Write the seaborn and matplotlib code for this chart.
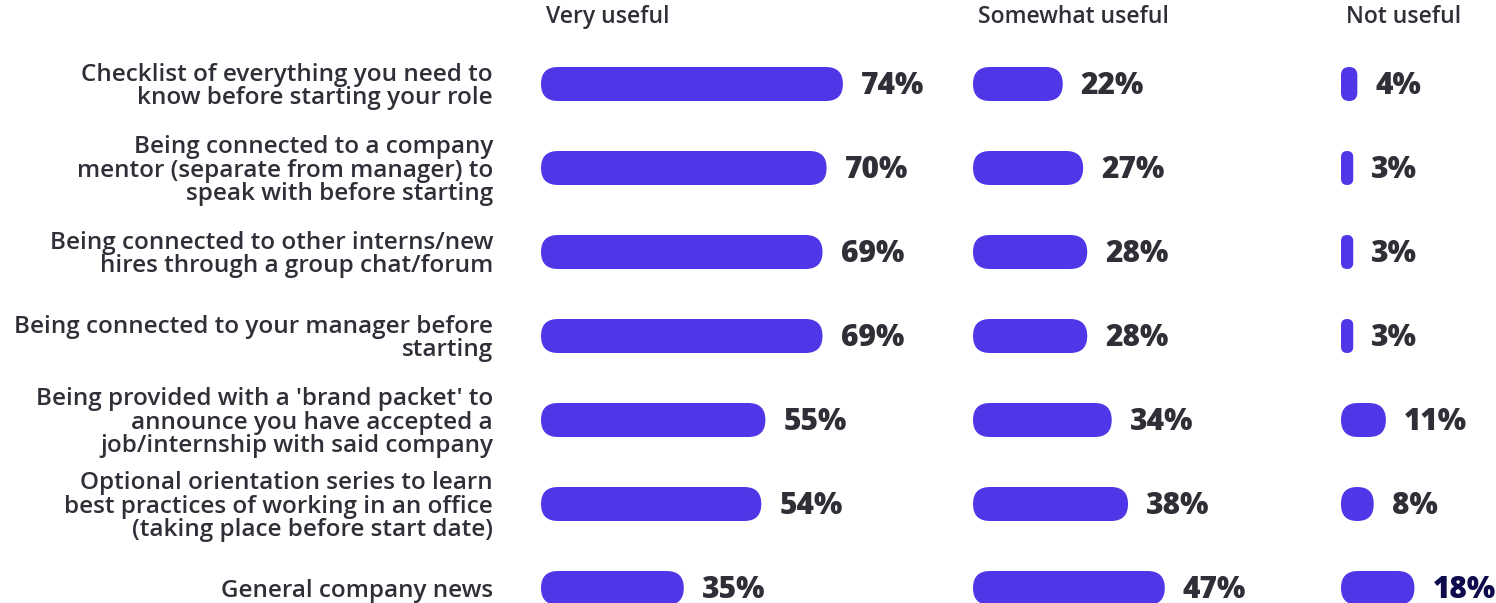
import matplotlib
matplotlib.use("Agg")
import matplotlib.pyplot as plt
from matplotlib.patches import FancyBboxPatch
import pandas as pd
import seaborn as sns

# Survey items (row order top to bottom)
categories = [
    "Checklist of everything you need to\nknow before starting your role",
    "Being connected to a company\nmentor (separate from manager) to\nspeak with before starting",
    "Being connected to other interns/new\nhires through a group chat/forum",
    "Being connected to your manager before\nstarting",
    "Being provided with a 'brand packet' to\nannounce you have accepted a\njob/internship with said company",
    "Optional orientation series to learn\nbest practices of working in an office\n(taking place before start date)",
    "General company news",
]
very_useful = [74, 70, 69, 69, 55, 54, 35]
somewhat_useful = [22, 27, 28, 28, 34, 38, 47]
not_useful = [4, 3, 3, 3, 11, 8, 18]
panel_titles = ["Very useful", "Somewhat useful", "Not useful"]

# Canvas and layout (pixels)
W, H, DPI = 1496, 603, 100
PX_PER_PCT = 4.08
ROW_PX = 84
BAR_PX = 34
FIRST_ROW_Y = 84
LABEL_GAP_PX = 18
panel_left = [541, 973, 1341]
panel_right = [960, 1330, 1496]

BAR_COLOR = "#4F37E8"
TEXT_COLOR = "#2E2F37"
HIGHLIGHT_COLOR = "#0E0B4C"

sns.set_theme(style="white")
plt.rcParams["font.family"] = ["Open Sans", "DejaVu Sans"]

fig = plt.figure(figsize=(W / DPI, H / DPI), dpi=DPI)
fig.patch.set_facecolor("white")

n = len(categories)
top_px = FIRST_ROW_Y - ROW_PX / 2
bottom_px = FIRST_ROW_Y + (n - 0.5) * ROW_PX

df = pd.DataFrame({
    "item": categories,
    "Very useful": very_useful,
    "Somewhat useful": somewhat_useful,
    "Not useful": not_useful,
})

for k, (title, L, R) in enumerate(zip(panel_titles, panel_left, panel_right)):
    ax = fig.add_axes([L / W, (H - bottom_px) / H, (R - L) / W, (bottom_px - top_px) / H])
    ax.set_facecolor("none")
    sns.barplot(data=df, x=title, y="item", orient="h", color=BAR_COLOR,
                saturation=1, width=BAR_PX / ROW_PX, ax=ax)
    xmax = (R - L) / PX_PER_PCT
    ax.set_xlim(0, xmax)
    ax.set_ylim(n - 0.5, -0.5)

    # turn the plain rectangles into pill shapes
    kx = xmax / (R - L)
    ky = 1.0 / ROW_PX
    asp = ky / kx
    for p in list(ax.patches):
        x, y, w, h = p.get_x(), p.get_y(), p.get_width(), p.get_height()
        r = min(w, h / asp) / 2
        pill = FancyBboxPatch((x, y), w, h,
                              boxstyle=f"round,pad=0,rounding_size={r}",
                              mutation_aspect=asp, facecolor=BAR_COLOR,
                              edgecolor="none", linewidth=0)
        p.remove()
        ax.add_patch(pill)

    values = df[title].tolist()
    vmax = max(values)
    for i, v in enumerate(values):
        color = HIGHLIGHT_COLOR if (k == 2 and v == vmax) else TEXT_COLOR
        ax.text(v + LABEL_GAP_PX / PX_PER_PCT, i + 2 / ROW_PX, f"{v}%",
                ha="left", va="center", fontsize=21.5, fontweight="heavy",
                color=color)

    ax.set_xlabel("")
    ax.set_ylabel("")
    ax.set_xticks([])
    for s in ax.spines.values():
        s.set_visible(False)
    if k == 0:
        ax.tick_params(axis="y", length=0, pad=48 * 72 / DPI)
        for t in ax.get_yticklabels():
            t.set_fontsize(17.5)
            t.set_fontweight("semibold")
            t.set_color(TEXT_COLOR)
            t.set_linespacing(0.96)
    else:
        ax.set_yticks([])

    fig.text((L + 5) / W, 1 - 17 / H, title, ha="left", va="center",
             fontsize=16.5, fontweight="semibold", color=TEXT_COLOR)

fig.savefig("out.png", dpi=DPI, facecolor="white")
